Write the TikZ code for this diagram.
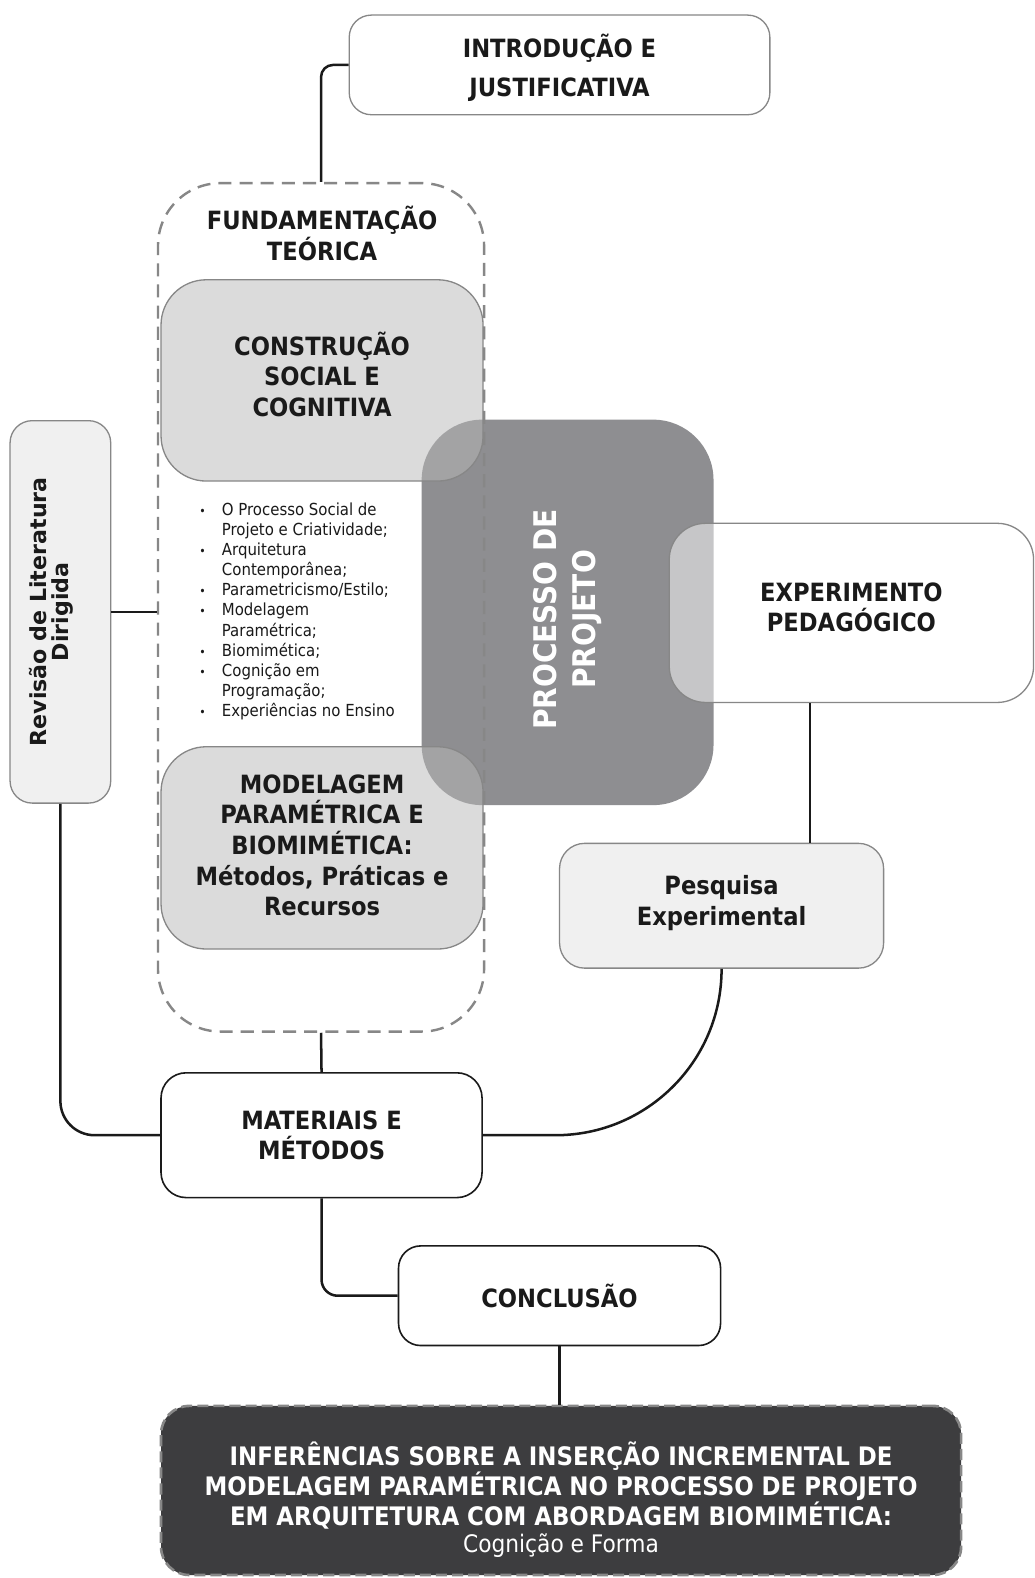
\documentclass[tikz,border=0pt]{standalone}
\usepackage{fontspec}
\setmainfont{DejaVu Sans Condensed}
\newfontfamily\widefont{DejaVu Sans}
\usetikzlibrary{calc}

\definecolor{ink}{RGB}{26,26,26}
\definecolor{edge}{RGB}{135,135,135}
\definecolor{procfill}{RGB}{142,142,145}
\definecolor{softfill}{RGB}{240,240,240}
\definecolor{midfill}{RGB}{184,184,184}
\definecolor{darkfill}{RGB}{61,61,63}

\newcommand{\hfnt}{\bfseries\fontsize{25}{30.5}\selectfont}
% centred lines, drawn shifted by #2 without changing the box size
\newcommand{\liftby}[3][300pt]{\raisebox{#2}[\height][\depth]{\parbox[c]{#1}{\centering #3}}}
\newcommand{\dotmark}{{\fontsize{12}{12}\selectfont\textbullet}}

\tikzset{
  box/.style={draw=edge, line width=1.3pt, fill=white, inner sep=0pt,
    align=center, text=ink, font=\hfnt},
  darkedge/.style={draw=ink, line width=1.6pt},
  translucent/.style={fill opacity=0.5, text opacity=1},
  conn/.style={draw=ink, line width=2.5pt},
}

\begin{document}
\begin{tikzpicture}[x=1pt,y=-1pt]
\useasboundingbox[fill=white] (0,0) rectangle (1028,1568);

% central process block, underneath the translucent boxes
\node[box, draw=none, fill=procfill, rounded corners=60pt, rotate=90,
      minimum width=383pt, minimum height=290pt, text=white,
      font=\bfseries\fontsize{31}{38}\selectfont]
  (proc) at (564,608.5) {PROCESSO DE\kern14pt\\PROJETO\kern14pt};

% theoretical foundation sub-blocks
\node[box, fill=midfill, translucent, rounded corners=45pt,
      minimum width=320pt, minimum height=200pt]
  (cons) at (320,378) {\liftby{6pt}{CONSTRUÇÃO\\SOCIAL E\\COGNITIVA}};
\node[box, fill=midfill, translucent, rounded corners=45pt,
      minimum width=320pt, minimum height=201pt]
  (model) at (320,842.5) {\liftby{2.5pt}{MODELAGEM\\PARAMÉTRICA E\\BIOMIMÉTICA:\\Métodos, Práticas e\\Recursos}};

% topic list
\node[anchor=west, inner sep=0pt, text=ink, font=\fontsize{16.5}{20}\selectfont]
  (topics) at (198,608) {%
  \begin{tabular}{@{}c@{\hspace{16pt}}l@{}}
  \dotmark & O Processo Social de\\
   & Projeto e Criatividade;\\
  \dotmark & Arquitetura\\
   & Contemporânea;\\
  \dotmark & Parametricismo/Estilo;\\
  \dotmark & Modelagem\\
   & Paramétrica;\\
  \dotmark & Biomimética;\\
  \dotmark & Cognição em\\
   & Programação;\\
  \dotmark & Experiências no Ensino
  \end{tabular}};

% pedagogical experiment
\node[box, translucent, rounded corners=36pt,
      minimum width=362pt, minimum height=178pt]
  (exper) at (846,609) {\liftby{5.5pt}{EXPERIMENTO\\PEDAGÓGICO}};

% remaining boxes
\node[box, draw=none, fill=none, text=ink, font=\hfnt] (fundtitle) at (320,232)
  {FUNDAMENTAÇÃO\\TEÓRICA};

\node[box, rounded corners=22pt, minimum width=418pt, minimum height=99pt,
      font=\bfseries\fontsize{25}{39}\selectfont]
  (intro) at (556,64.5) {\liftby{-3pt}{INTRODUÇÃO E\\JUSTIFICATIVA}};

\node[box, fill=softfill, rounded corners=22pt, rotate=90,
      minimum width=380pt, minimum height=100pt,
      font=\widefont\bfseries\fontsize{22}{22}\selectfont]
  (rev) at (60,608) {\liftby{9pt}{Revisão de Literatura\\Dirigida}};

\node[box, fill=softfill, rounded corners=25pt,
      minimum width=322pt, minimum height=124pt]
  (pesq) at (717,900) {\liftby{3pt}{Pesquisa\\Experimental}};

\node[box, darkedge, rounded corners=25pt,
      minimum width=319pt, minimum height=124pt]
  (mat) at (319.5,1128) {MATERIAIS E\\MÉTODOS};

\node[box, darkedge, rounded corners=22pt,
      minimum width=320pt, minimum height=99pt]
  (conc) at (556,1287.5) {CONCLUSÃO};

\node[box, fill=darkfill, draw=edge, line width=2.6pt,
      dash pattern=on 11pt off 5pt, rounded corners=28pt,
      minimum width=795pt, minimum height=168pt, text=white,
      font=\bfseries\fontsize{25.3}{30}\selectfont]
  (inf) at (557.5,1481) {\liftby[770pt]{-9pt}{INFERÊNCIAS SOBRE A INSERÇÃO INCREMENTAL DE\\
    MODELAGEM PARAMÉTRICA NO PROCESSO DE PROJETO\\
    EM ARQUITETURA COM ABORDAGEM BIOMIMÉTICA:\\[-4pt]
    {\mdseries\fontsize{24}{30}\selectfont Cognição e Forma}}};

% dashed frame of the theoretical foundation
\node[draw=edge, line width=2.4pt, dash pattern=on 13pt off 8pt,
      rounded corners=62pt, minimum width=324pt, minimum height=843pt,
      inner sep=0pt] (fund) at (319,603.5) {};

% connectors
\coordinate (ev) at (805,0);
\draw[conn, rounded corners=12pt] (intro.west) -| (fund.north);
\draw[conn] (rev.south) -- (rev.south -| fund.west);
\draw[conn, rounded corners=34pt] (rev.west) |- (mat.west);
\draw[conn] (exper.south -| ev) -- (pesq.north -| ev);
\draw[conn, rounded corners=165pt] (pesq.south) |- (mat.east);
\draw[conn] (fund.south) -- (mat.north);
\draw[conn, rounded corners=16pt] (mat.south) |- (conc.west);
\draw[conn] (conc.south) -- (conc.south |- inf.north);
\end{tikzpicture}
\end{document}
